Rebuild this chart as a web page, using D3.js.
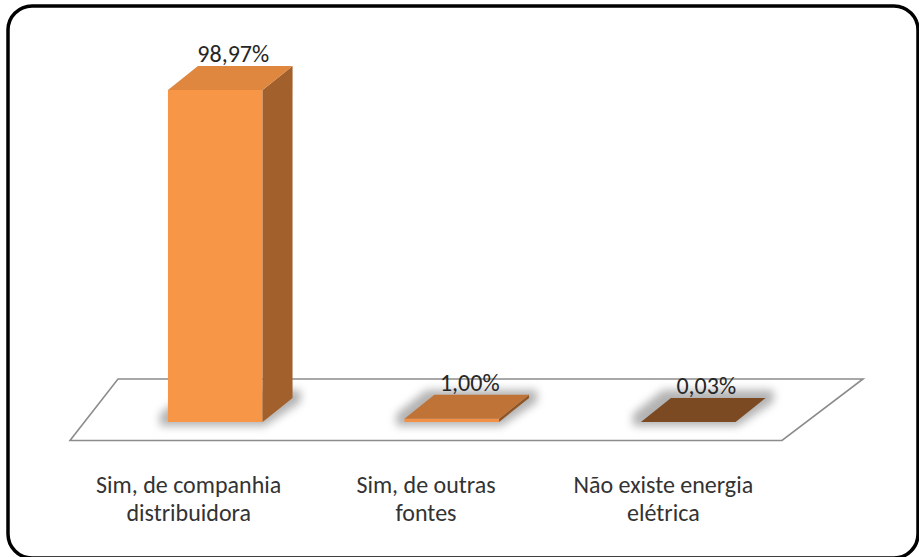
<!DOCTYPE html>
<html>
<head>
<meta charset="utf-8">
<script src="https://cdn.jsdelivr.net/npm/d3@7"></script>
<style>
  html, body { margin: 0; padding: 0; background: #fff; }
  svg { display: block; }
  text { font-family: Carlito, Lato, "Open Sans", sans-serif; }
</style>
</head>
<body>
<svg id="chart" width="919" height="557"></svg>
<script>
// Energia elétrica no domicílio (%)
const categories = [
  ["Sim, de companhia", "distribuidora"],
  ["Sim, de outras", "fontes"],
  ["Não existe energia", "elétrica"]
];
const values = [98.97, 1.00, 0.03];
const valueLabels = ["98,97%", "1,00%", "0,03%"];

// face colours per bar: front, top, side
const frontColors = ["#F79646", "#F29145", "#6F421D"];
const topColors   = ["#DF873F", "#C07336", "#7B4A22"];
const sideColors  = ["#A1602C", "#8E5526", "#5A3617"];

const W = 919, H = 557;
const svg = d3.select("#chart");

// depth offset of the 3-D boxes
const DX = 30, DY = -24;

const idx = d3.range(values.length);

// bar positions on the front plane
const x = d3.scaleBand()
  .domain(idx)
  .range([97, 806.5])
  .paddingInner(0.6)
  .paddingOuter(0.3);

// category label positions along the front edge of the floor
const xLab = d3.scaleBand()
  .domain(idx)
  .range([70, 782]);

const y = d3.scaleLinear()
  .domain([0, 100])
  .range([422, 86.5]);

const defs = svg.append("defs");
const f = defs.append("filter").attr("id", "shadow")
  .attr("x", "-50%").attr("y", "-50%").attr("width", "200%").attr("height", "200%");
f.append("feGaussianBlur").attr("stdDeviation", 4.5);

// outer frame
svg.append("rect")
  .attr("x", 8).attr("y", 6)
  .attr("width", 910).attr("height", 552)
  .attr("rx", 24).attr("ry", 24)
  .attr("fill", "#fff")
  .attr("stroke", "#000")
  .attr("stroke-width", 3.5);

// floor
const floorPts = [[118, 379], [863, 379], [782, 440.5], [70, 440.5]];
svg.append("path")
  .attr("d", d3.line()(floorPts) + "Z")
  .attr("fill", "#fff")
  .attr("stroke", "#8c8c8c")
  .attr("stroke-width", 1.6);

const line = d3.line();

// soft shadows around the base of each box
svg.append("g").selectAll("path")
  .data(idx)
  .join("path")
  .attr("filter", "url(#shadow)")
  .attr("fill", "#808080")
  .attr("opacity", 0.6)
  .attr("d", i => {
    const x0 = x(i) - 8, x1 = x(i) + x.bandwidth() + 2;
    const yb = y(0) + 4, yt = y(0) - 8;
    return line([[x0, yb], [x0, yt], [x0 + DX, yt + DY], [x1 + DX + 6, yt + DY],
                 [x1 + DX + 6, yb + DY], [x1, yb]]) + "Z";
  });

const bars = svg.append("g").selectAll("g")
  .data(idx)
  .join("g");

// front face
bars.append("path")
  .attr("fill", i => frontColors[i])
  .attr("d", i => {
    const x0 = x(i), x1 = x(i) + x.bandwidth();
    const yb = y(0), yt = y(values[i]);
    return line([[x0, yb], [x0, yt], [x1, yt], [x1, yb]]) + "Z";
  });

// right side face
bars.append("path")
  .attr("fill", i => sideColors[i])
  .attr("d", i => {
    const x1 = x(i) + x.bandwidth();
    const yb = y(0), yt = y(values[i]);
    return line([[x1, yb], [x1, yt], [x1 + DX, yt + DY], [x1 + DX, yb + DY]]) + "Z";
  });

// top face
bars.append("path")
  .attr("fill", i => topColors[i])
  .attr("d", i => {
    const x0 = x(i), x1 = x(i) + x.bandwidth();
    const yt = y(values[i]);
    return line([[x0, yt], [x0 + DX, yt + DY], [x1 + DX, yt + DY], [x1, yt]]) + "Z";
  });

// value labels
svg.append("g").selectAll("text")
  .data(idx)
  .join("text")
  .attr("x", i => x(i) + x.bandwidth() / 2 + DX * 0.6)
  .attr("y", i => y(values[i]) + DY - 4)
  .attr("text-anchor", "middle")
  .attr("font-size", 24)
  .attr("fill", "#262626")
  .text(i => valueLabels[i]);

// category labels
const cat = svg.append("g").selectAll("text")
  .data(idx)
  .join("text")
  .attr("text-anchor", "middle")
  .attr("font-size", 24)
  .attr("fill", "#333");
cat.selectAll("tspan")
  .data(i => categories[i].map(t => ({ t, i })))
  .join("tspan")
  .attr("x", d => xLab(d.i) + xLab.bandwidth() / 2)
  .attr("y", (d, k) => 493 + k * 28)
  .text(d => d.t);
</script>
</body>
</html>
